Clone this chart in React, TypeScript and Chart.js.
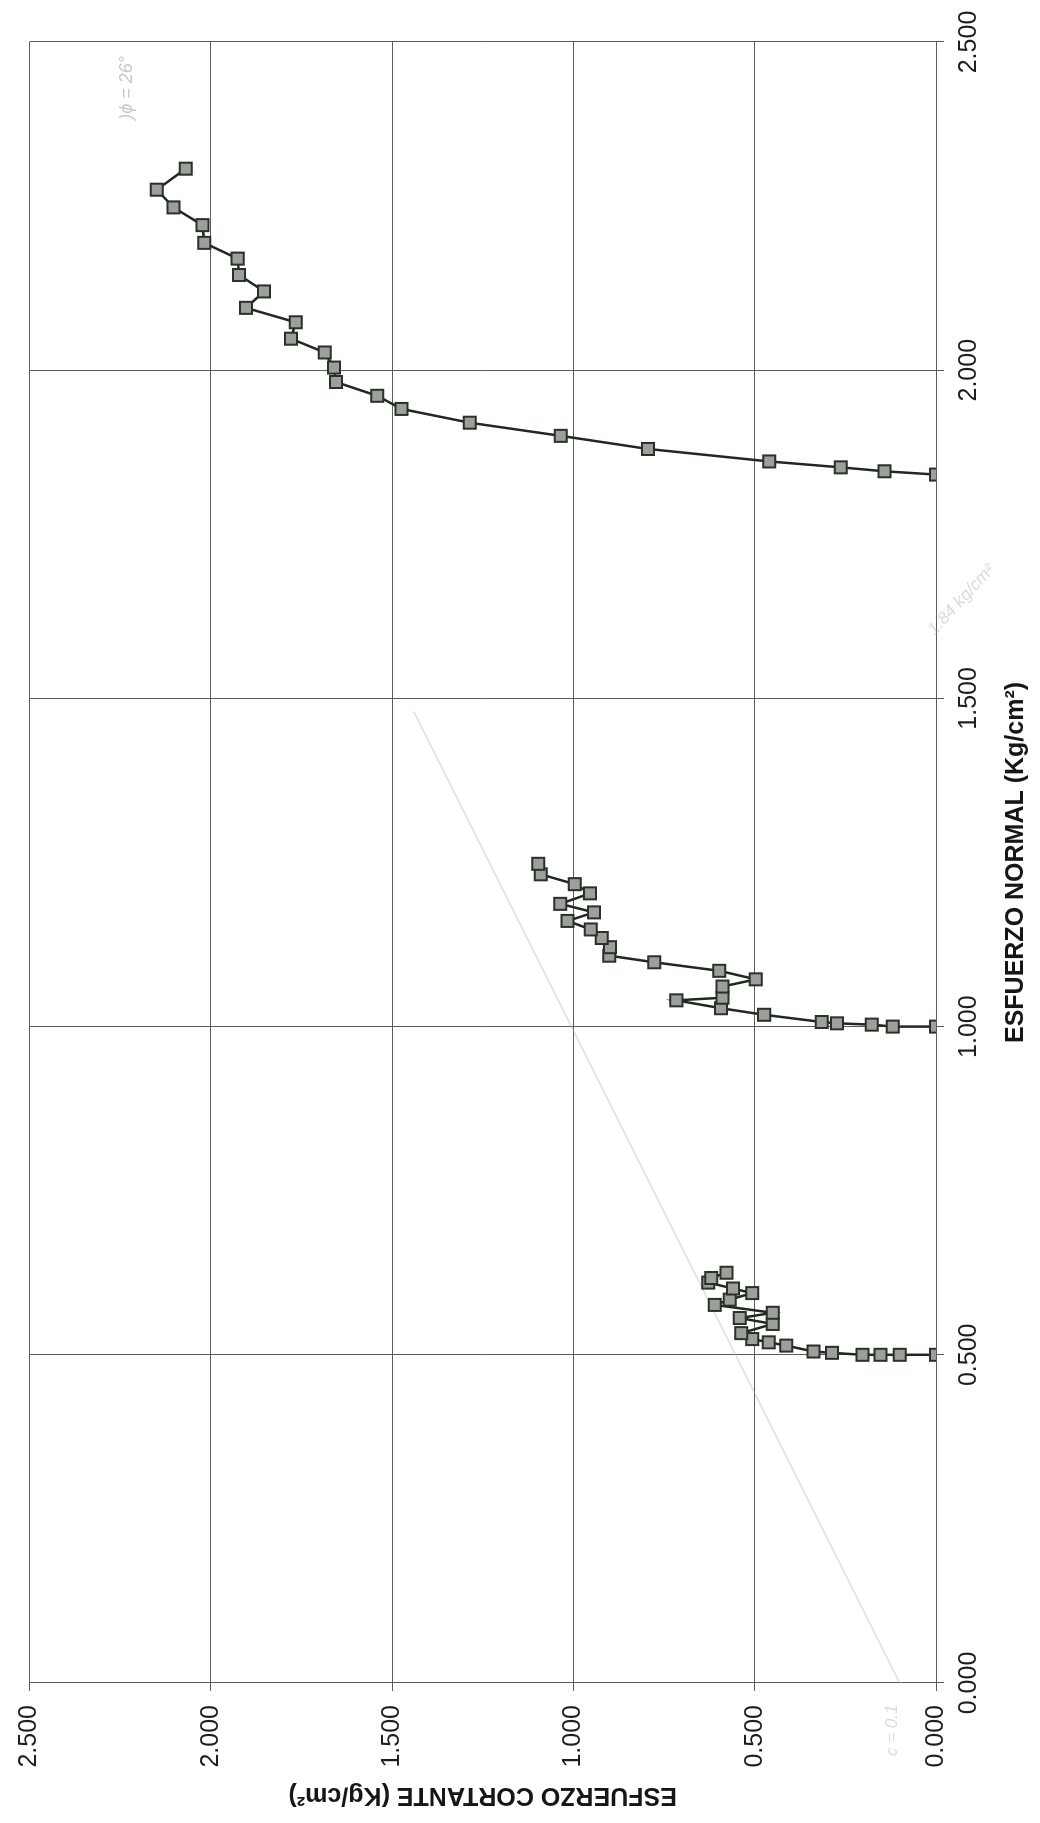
import React, { useEffect, useRef } from 'react';
import { Chart, registerables } from 'chart.js';

Chart.register(...registerables);

// ---- Data (ESFUERZO NORMAL vs ESFUERZO CORTANTE, Kg/cm²) ----
const axisTicks = [0, 0.5, 1.0, 1.5, 2.0, 2.5];

const serie1Normal = [0.500, 0.500, 0.500, 0.500, 0.503, 0.505, 0.514, 0.519, 0.524, 0.533, 0.547, 0.556, 0.564, 0.576, 0.584, 0.594, 0.601, 0.610, 0.617, 0.625];
const serie1Cortante = [0.000, 0.100, 0.153, 0.203, 0.287, 0.338, 0.413, 0.461, 0.507, 0.537, 0.450, 0.541, 0.450, 0.610, 0.569, 0.507, 0.560, 0.628, 0.620, 0.578];

const serie2Normal = [1.000, 1.000, 1.003, 1.005, 1.007, 1.018, 1.028, 1.040, 1.044, 1.061, 1.072, 1.085, 1.098, 1.108, 1.121, 1.135, 1.148, 1.161, 1.174, 1.187, 1.203, 1.217, 1.232, 1.248];
const serie2Cortante = [0.000, 0.119, 0.177, 0.273, 0.315, 0.474, 0.593, 0.716, 0.589, 0.589, 0.497, 0.598, 0.777, 0.901, 0.899, 0.922, 0.952, 1.016, 0.943, 1.036, 0.954, 0.996, 1.090, 1.097];

const serie3Normal = [1.841, 1.846, 1.852, 1.861, 1.880, 1.900, 1.920, 1.941, 1.961, 1.982, 2.004, 2.027, 2.048, 2.073, 2.095, 2.120, 2.145, 2.170, 2.194, 2.221, 2.248, 2.275, 2.307];
const serie3Cortante = [0.000, 0.142, 0.263, 0.460, 0.794, 1.035, 1.286, 1.474, 1.541, 1.655, 1.660, 1.686, 1.779, 1.766, 1.903, 1.853, 1.922, 1.926, 2.018, 2.023, 2.103, 2.149, 2.069];

// faint hand-drawn envelope line
const envolventeNormal = [0.0, 1.48];
const envolventeCortante = [0.1, 1.44];

const FONT = '"Liberation Sans", Arial, Helvetica, sans-serif';

function toPoints(xs: number[], ys: number[]) {
  return xs.map((x, i) => ({ x, y: ys[i] }));
}

const notesPlugin = {
  id: 'notes',
  afterDatasetsDraw(chart: any) {
    const { ctx, scales } = chart;
    const xs = scales.x;
    const ys = scales.y;
    ctx.save();
    ctx.fillStyle = 'rgba(150,150,175,0.55)';
    ctx.font = `italic 18px ${FONT}`;
    ctx.textAlign = 'center';
    ctx.textBaseline = 'middle';
    ctx.fillText(')ϕ = 26°', xs.getPixelForValue(2.43), ys.getPixelForValue(2.23));
    ctx.fillStyle = 'rgba(160,160,180,0.4)';
    ctx.font = `italic 17px ${FONT}`;
    ctx.fillText('c = 0.1', xs.getPixelForValue(-0.072), ys.getPixelForValue(0.12));
    ctx.translate(xs.getPixelForValue(1.65), ys.getPixelForValue(-0.07));
    ctx.rotate(0.75);
    ctx.fillText('1.84 kg/cm²', 0, 0);
    ctx.restore();
  },
};

export default function App() {
  const ref = useRef<HTMLCanvasElement>(null);

  useEffect(() => {
    const canvas = ref.current;
    if (!canvas) return;
    const gridColor = '#5c5c5c';
    const tickFont = { family: FONT, size: 25 };
    const titleFont = { family: FONT, size: 25, weight: 'bold' as const };
    const seriesStyle = {
      showLine: true,
      borderColor: '#1d2a1d',
      borderWidth: 2.5,
      pointStyle: 'rect' as const,
      pointRadius: 8.5,
      pointBackgroundColor: '#9c9f9a',
      pointBorderColor: '#283228',
      pointBorderWidth: 2,
      tension: 0,
      order: 0,
    };
    const chart = new Chart(canvas, {
      type: 'scatter',
      data: {
        datasets: [
          { label: 'Serie 1', data: toPoints(serie1Normal, serie1Cortante), ...seriesStyle },
          { label: 'Serie 2', data: toPoints(serie2Normal, serie2Cortante), ...seriesStyle },
          { label: 'Serie 3', data: toPoints(serie3Normal, serie3Cortante), ...seriesStyle },
          {
            label: 'Envolvente',
            data: toPoints(envolventeNormal, envolventeCortante),
            showLine: true,
            borderColor: 'rgba(170,170,185,0.45)',
            borderWidth: 1.2,
            pointRadius: 0,
            order: 10,
          },
        ],
      },
      options: {
        animation: false,
        responsive: false,
        maintainAspectRatio: false,
        layout: { padding: { top: 29.5, right: 42, bottom: 0, left: 0 } },
        plugins: { legend: { display: false }, tooltip: { enabled: false } },
        scales: {
          x: {
            type: 'linear',
            min: axisTicks[0],
            max: axisTicks[axisTicks.length - 1],
            afterBuildTicks: (s: any) => {
              s.ticks = axisTicks.map((v) => ({ value: v }));
            },
            ticks: {
              font: tickFont,
              color: '#1e1e1e',
              padding: 10,
              maxRotation: 0,
              minRotation: 0,
              callback: (v: any) => Number(v).toFixed(3),
            },
            grid: { color: gridColor, lineWidth: 1, tickLength: 8 },
            border: { color: gridColor, width: 1 },
            title: {
              display: true,
              text: 'ESFUERZO NORMAL (Kg/cm²)',
              font: titleFont,
              color: '#161616',
              padding: { top: 4, bottom: 9 },
            },
            afterFit: (s: any) => {
              s.height = 104;
            },
          },
          y: {
            type: 'linear',
            min: axisTicks[0],
            max: axisTicks[axisTicks.length - 1],
            afterBuildTicks: (s: any) => {
              s.ticks = axisTicks.map((v) => ({ value: v }));
            },
            ticks: {
              font: tickFont,
              color: '#1e1e1e',
              padding: 14,
              callback: (v: any) => Number(v).toFixed(3),
            },
            grid: { color: gridColor, lineWidth: 1, tickLength: 8 },
            border: { color: gridColor, width: 1 },
            title: {
              display: true,
              text: 'ESFUERZO CORTANTE (Kg/cm²)',
              font: titleFont,
              color: '#161616',
              padding: { top: 13, bottom: 4 },
            },
            afterFit: (s: any) => {
              s.width = 140;
            },
          },
        },
      },
      plugins: [notesPlugin],
    });
    return () => chart.destroy();
  }, []);

  return (
    <div
      style={{
        position: 'fixed',
        left: 0,
        top: 0,
        width: 1823,
        height: 1040,
        background: '#ffffff',
        transformOrigin: '0 0',
        transform: 'translateY(1823px) rotate(-90deg)',
      }}
    >
      <canvas ref={ref} width={1823} height={1040} style={{ display: 'block', width: 1823, height: 1040 }} />
    </div>
  );
}
